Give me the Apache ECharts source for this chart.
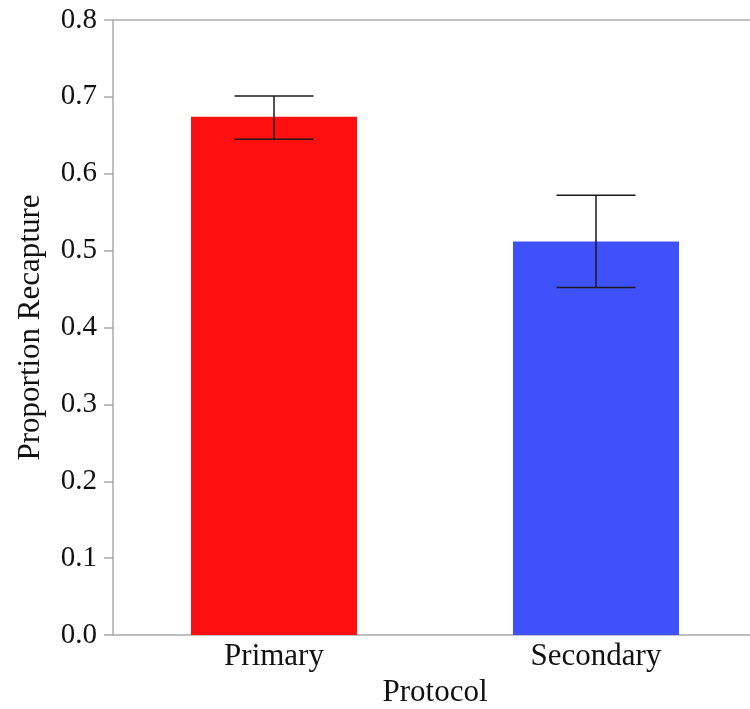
<!DOCTYPE html>
<html><head><meta charset="utf-8">
<script src="https://cdn.jsdelivr.net/npm/echarts@6/dist/echarts.min.js"></script>
<style>html,body{margin:0;padding:0;background:#fff;}#c{width:750px;height:709px;}</style>
</head><body><div id="c"></div>
<script>
var categories = ['Primary', 'Secondary'];
var values = [0.674, 0.512];
var errLow = [0.645, 0.452];
var errHigh = [0.701, 0.572];
var barColors = ['#ff0f0f', '#3f51fa'];
var yTicks = [0, 0.1, 0.2, 0.3, 0.4, 0.5, 0.6, 0.7, 0.8];

var font = 'Liberation Serif';
var chart = echarts.init(document.getElementById('c'));
var errData = categories.map(function (c, i) { return [i, errLow[i], errHigh[i]]; });
chart.setOption({
  animation: false,
  grid: { left: 113, right: -7, top: 20, bottom: 74, containLabel: false, outerBoundsMode: 'none' },
  xAxis: [{
    type: 'category', data: categories,
    axisLine: { show: true, lineStyle: { color: '#aaaaaa', width: 1.5 } },
    axisTick: { show: false },
    axisLabel: { fontFamily: font, fontSize: 31, color: '#111', margin: 6 },
    name: 'Protocol', nameLocation: 'middle', nameGap: 42,
    nameTextStyle: { fontFamily: font, fontSize: 31, color: '#111' }
  }, {
    type: 'category', data: categories, position: 'top',
    axisLine: { show: true, lineStyle: { color: '#aaaaaa', width: 1.5 } },
    axisTick: { show: false }, axisLabel: { show: false }
  }],
  yAxis: {
    type: 'value', min: 0, max: 0.8, interval: 0.1,
    axisLine: { show: true, lineStyle: { color: '#aaaaaa', width: 1.5 } },
    axisTick: { show: true, length: 9, lineStyle: { color: '#aaaaaa', width: 1.5 } },
    splitLine: { show: false },
    axisLabel: { fontFamily: font, fontSize: 29, color: '#111', margin: 16,
      formatter: function (v) { return v.toFixed(1); } },
    name: 'Proportion Recapture', nameLocation: 'middle', nameGap: 67,
    nameTextStyle: { fontFamily: font, fontSize: 31, color: '#111' }
  },
  series: [{
    type: 'bar', barWidth: 166,
    data: values.map(function (v, i) { return { value: v, itemStyle: { color: barColors[i] } }; })
  }, {
    type: 'custom', data: errData, z: 10,
    renderItem: function (params, api) {
      var x = api.value(0);
      var lo = api.coord([x, api.value(1)]);
      var hi = api.coord([x, api.value(2)]);
      var hw = 39.5;
      var st = { stroke: '#1a1a1a', lineWidth: 1.5 };
      return { type: 'group', children: [
        { type: 'line', shape: { x1: lo[0], y1: lo[1], x2: hi[0], y2: hi[1] }, style: st },
        { type: 'line', shape: { x1: lo[0] - hw, y1: lo[1], x2: lo[0] + hw, y2: lo[1] }, style: st },
        { type: 'line', shape: { x1: hi[0] - hw, y1: hi[1], x2: hi[0] + hw, y2: hi[1] }, style: st }
      ] };
    }
  }]
});
</script></body></html>
